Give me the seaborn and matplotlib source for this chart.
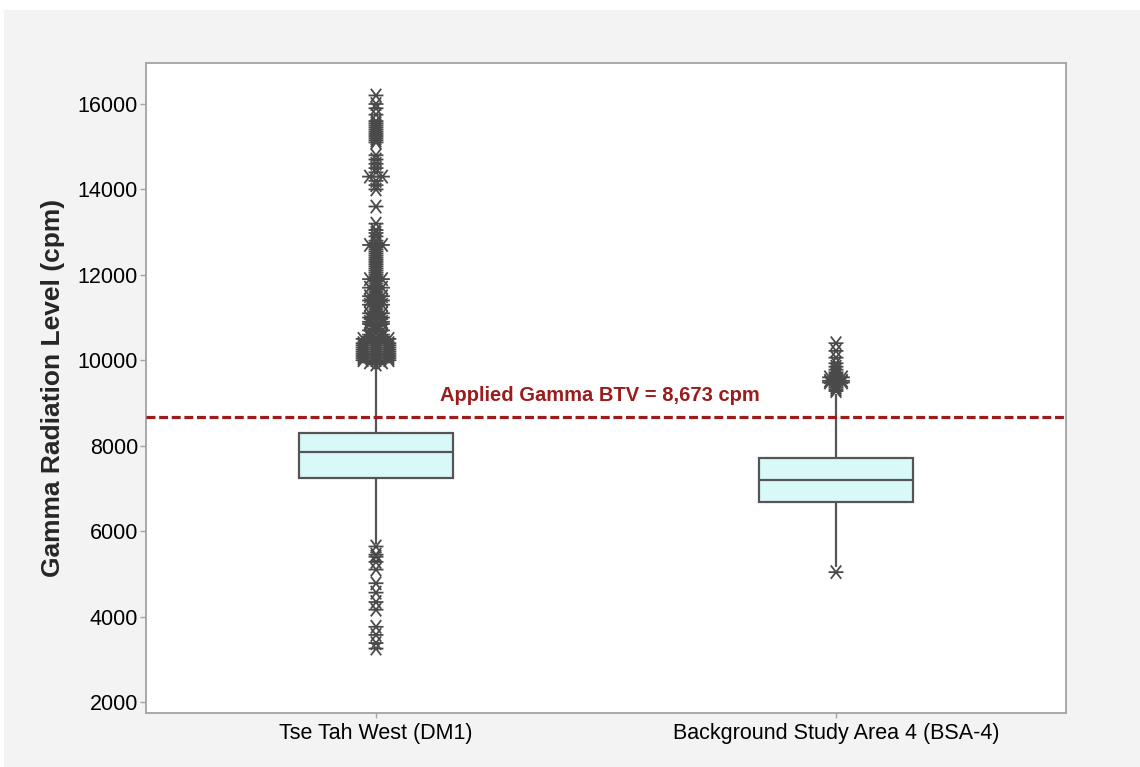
import numpy as np
import pandas as pd
import matplotlib
matplotlib.use("Agg")
import matplotlib.pyplot as plt
import seaborn as sns
from matplotlib.path import Path
from matplotlib.patches import Rectangle

# ---- data -------------------------------------------------------------
sites = ["Tse Tah West (DM1)", "Background Study Area 4 (BSA-4)"]

# five-number summaries: lower whisker, Q1, median, Q3, upper whisker (cpm)
dm1_summary = [5700, 7250, 7846, 8304, 9880]
bsa4_summary = [5170, 6689, 7197, 7705, 9220]

# outlying measurements (cpm); repeated values are tied readings
dm1_outliers = [
    16200, 16000, 15900, 15750, 15600,
    15550, 15500, 15450, 15400, 15350, 15300, 15250, 15200, 15150, 15100,
    14800, 14700, 14600, 14500, 14400, 14300, 14300, 14200, 14100, 14000,
    13600,
    13200, 13050, 12980, 12900, 12800, 12750, 12700, 12700, 12650, 12600,
    12550, 12500, 12450, 12400, 12350, 12300, 12250,
    12200, 12150, 12100, 12050, 12000, 11950, 11900, 11900, 11850, 11800,
    11750, 11700, 11700, 11650, 11600, 11550, 11500, 11500, 11450, 11400,
    11400, 11350, 11300, 11300, 11250, 11200, 11150, 11100, 11100, 11050,
    11000, 11000,
    10950, 10900, 10900, 10850, 10850, 10800, 10750, 10700, 10700, 10650,
    10600, 10600, 10550, 10550, 10500, 10500, 10500, 10450, 10450, 10400,
    10400, 10400, 10350, 10350, 10350, 10300, 10300, 10300, 10250, 10250,
    10250, 10200, 10200, 10200, 10150, 10150, 10150, 10100, 10100, 10100,
    10050, 10050, 10050, 10000, 10000, 10000, 9950, 9950, 9900,
    5640, 5450, 5400, 5280, 5100, 4780, 4560, 4340, 4160,
    3760, 3570, 3380, 3250,
]
bsa4_outliers = [
    10400, 10220, 10060, 9930, 9850, 9780, 9720, 9680, 9640, 9600, 9600,
    9560, 9520, 9520, 9480, 9480, 9440, 9400, 9360, 9320, 9280,
    5040,
]

btv_value = 8673
btv_label = "Applied Gamma BTV = 8,673 cpm"
y_label = "Gamma Radiation Level (cpm)"
y_ticks = [2000, 4000, 6000, 8000, 10000, 12000, 14000, 16000]

# ---- styling ----------------------------------------------------------
sns.set_style("white")
plt.rcParams["font.family"] = ["Liberation Sans", "DejaVu Sans"]

edge_gray = "#555555"
frame_gray = "#a3a3a3"
box_fill = "#d9f8f8"
btv_red = "#9b1c1c"
outlier_gray = "#4a4a4a"

W, H = 1140, 767
fig = plt.figure(figsize=(W / 100, H / 100), dpi=100)
fig.patch.set_facecolor("white")
fig.add_artist(Rectangle((4 / W, 0), 1 - 4 / W, 1 - 10 / H,
                         transform=fig.transFigure, facecolor="#f3f3f3",
                         edgecolor="none", zorder=-10))

ax = fig.add_axes([146 / W, 1 - 713 / H, 920 / W, 650 / H])
ax.set_facecolor("white")

# boxes drawn from the summary values (whiskers span the full range given)
box_df = pd.DataFrame({
    "site": [sites[0]] * len(dm1_summary) + [sites[1]] * len(bsa4_summary),
    "value": dm1_summary + bsa4_summary,
})
sns.boxplot(data=box_df, x="site", y="value", order=sites, ax=ax,
            whis=(0, 100), width=0.333, showcaps=False, fliersize=0,
            color=box_fill, saturation=1, linecolor=edge_gray, linewidth=1.6)

# Minitab-style asterisk marker
star = Path([(-1, 0), (1, 0), (-0.7, -0.9), (0.7, 0.9), (-0.7, 0.9), (0.7, -0.9)],
            [Path.MOVETO, Path.LINETO] * 3)


def tie_offsets(values, step):
    """Spread tied readings side by side around the category centre."""
    vals = np.asarray(values, dtype=float)
    offs = np.zeros_like(vals)
    for v in np.unique(vals):
        idx = np.where(vals == v)[0]
        k = len(idx)
        offs[idx] = (np.arange(k) - (k - 1) / 2) * step
    return offs


for i, outs in enumerate([dm1_outliers, bsa4_outliers]):
    xs = i + tie_offsets(outs, 0.028)
    ax.scatter(xs, outs, marker=star, s=115, facecolors="none",
               edgecolors=outlier_gray, linewidths=1.3, zorder=4)

# background threshold value line
ax.axhline(btv_value, color=btv_red, lw=2.3, ls=(0, (2.8, 1.15)), zorder=5)
ax.text(0.487, 9187, btv_label, color=btv_red, fontsize=14.5,
        fontweight="bold", ha="center", va="center", zorder=6)

ax.set_xlim(-0.5, 1.5)
ax.set_ylim(1742, 16960)
ax.set_yticks(y_ticks)
ax.set_yticklabels([str(t) for t in y_ticks])
ax.set_xlabel("")
ax.set_ylabel(y_label, fontsize=19, fontweight="bold")
ax.yaxis.set_label_coords(-0.088, 0.5)

for sp in ax.spines.values():
    sp.set_visible(True)
    sp.set_color(frame_gray)
    sp.set_linewidth(1.3)

ax.tick_params(axis="y", which="major", left=True, length=4.3, width=1,
               color=frame_gray, labelsize=15.5, pad=1.5, labelcolor="black")
ax.tick_params(axis="x", which="major", bottom=True, length=3.6, width=1,
               color=frame_gray, labelsize=15.5, pad=3.6, labelcolor="black")

fig.savefig("out.png", dpi=100, facecolor=fig.get_facecolor())
